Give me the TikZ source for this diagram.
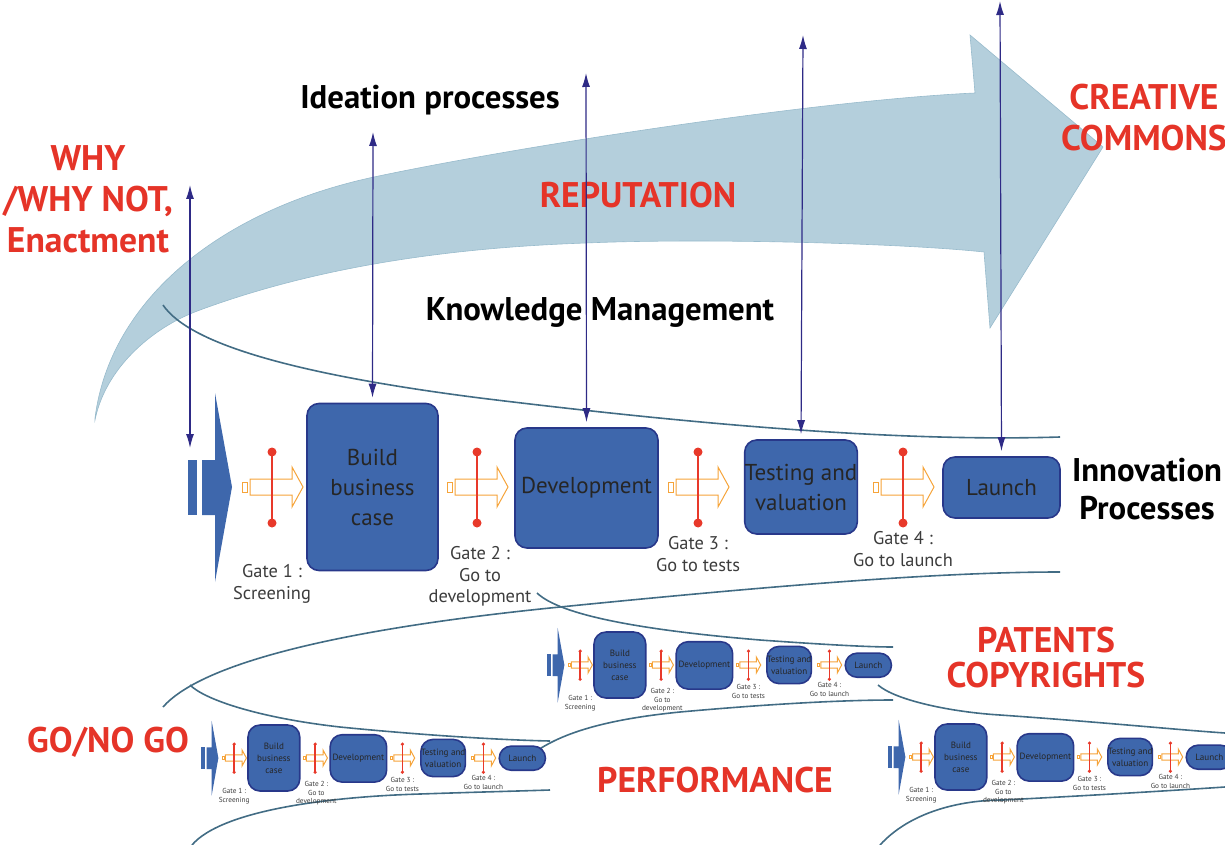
\documentclass[tikz,border=0pt]{standalone}
\usepackage{fontspec}
\setmainfont{PT Sans}
\usetikzlibrary{arrows.meta}

\definecolor{sky}{RGB}{180,207,220}
\definecolor{skyedge}{RGB}{152,187,204}
\definecolor{funnel}{RGB}{66,108,132}
\definecolor{navy}{RGB}{46,42,134}
\definecolor{stagefill}{RGB}{62,103,172}
\definecolor{stageedge}{RGB}{40,56,138}
\definecolor{R}{RGB}{229,52,40}
\definecolor{gatered}{RGB}{232,57,42}
\definecolor{gateorange}{RGB}{246,164,58}
\definecolor{gategray}{RGB}{60,60,60}

\tikzset{
  stage/.style={draw=stageedge, fill=stagefill, line width=0.8pt, rounded corners=6pt,
    align=center, inner sep=0pt, text=black!85, font=\fontsize{11.5}{15}\selectfont},
  gatelabel/.style={anchor=north, align=center, inner sep=0pt, text=gategray,
    font=\fontsize{9.2}{10.8}\selectfont},
  redword/.style={align=center, text=R, font=\bfseries\fontsize{17.8}{20.5}\selectfont},
  blackword/.style={align=center, font=\bfseries\fontsize{16.4}{19}\selectfont},
  funnel/.style={draw=funnel, line width=0.8pt},
  updown/.style={navy, line width=0.6pt, {Latex[length=7pt,width=4pt]}-{Latex[length=7pt,width=4pt]},
    shorten <=2.5pt},
  % one gate: hollow arrow crossed by a red bar
  pics/gate/.style={code={
    \draw[gateorange, fill=white, line width=0.5pt] (-30,-5) rectangle (-25,5);
    \draw[gateorange, fill=white, line width=0.5pt] (-22,-8) -- (20,-8) -- (20,-20)
      -- (31,0) -- (20,20) -- (20,8) -- (-22,8) -- cycle;
    \draw[gatered, line width=0.9pt] (0,-35) -- (0,36);
    \fill[gatered] (0,-35) circle (4.5) (0,36) circle (4.5);
  }},
  % the stage-gate row
  pics/procrow/.style={code={
    \fill[stagefill] (0,-27) rectangle (9,28);
    \fill[stagefill] (14,-27) -- (27,-27) -- (27,-94) -- (44,0) -- (27,95) -- (27,28)
      -- (14,28) -- cycle;
    \coordinate (-in) at (2,-34);
    \pic at (84,0) {gate};
    \node[stage, minimum width=65.5pt, minimum height=83.5pt] (-bbc) at (184.5,0)
      {Build\\business\\case};
    \pic at (289,0) {gate};
    \node[stage, minimum width=71.5pt, minimum height=60pt] (-dev) at (398.5,1)
      {Development};
    \pic at (510,0) {gate};
    \node[stage, minimum width=56pt, minimum height=47pt] (-test) at (613,0)
      {Testing and\\valuation};
    \pic at (715,0) {gate};
    \node[stage, minimum width=58.5pt, minimum height=30.5pt] (-launch) at (813.5,0.5)
      {Launch};
    \node[gatelabel] (-g1) at (84,77) {Gate 1 :\\Screening};
    \node[gatelabel] (-g2) at (292,59) {Gate 2 :\\Go to\\development};
    \node[gatelabel] (-g3) at (510,49) {Gate 3 :\\Go to tests};
    \node[gatelabel] (-g4) at (715,44) {Gate 4 :\\Go to launch};
  }}
}

\begin{document}
\begin{tikzpicture}[x=0.5pt,y=-0.5pt]
  \useasboundingbox (0,0) rectangle (1225,845);

  % big curved arrow
  \filldraw[fill=sky, draw=skyedge, line width=0.3pt]
    (95,418) .. controls (110,300) and (220,210) .. (374,177)
    .. controls (520,146) and (820,100) .. (975,93)
    -- (970,35) -- (1103,147) -- (990,328) -- (984,252)
    .. controls (900,243) and (700,238) .. (586,243)
    .. controls (470,247) and (330,262) .. (200,310)
    .. controls (150,328) and (105,370) .. (95,420) -- cycle;

  % funnels
  \draw[funnel] (163,305) .. controls (190,345) and (300,375) .. (480,398)
    .. controls (700,425) and (900,442) .. (1060,437);
  \draw[funnel] (163,707) .. controls (200,665) and (330,630) .. (560,607)
    .. controls (800,583) and (950,572) .. (1060,572);
  \draw[funnel] (537,593) .. controls (560,615) and (640,630) .. (760,640)
    .. controls (830,645) and (870,647) .. (893,647);
  \draw[funnel] (527,758) .. controls (555,735) and (600,720) .. (680,712)
    .. controls (780,703) and (850,700) .. (893,700);
  \draw[funnel] (190,685) .. controls (205,700) and (260,718) .. (340,727)
    .. controls (420,735) and (500,740) .. (550,741);
  \draw[funnel] (192,845) .. controls (220,812) and (320,797) .. (420,794)
    .. controls (480,792) and (520,791) .. (550,790);
  \draw[funnel] (878,685) .. controls (895,700) and (950,712) .. (1000,715)
    .. controls (1100,722) and (1180,730) .. (1225,733);
  \draw[funnel] (880,845) .. controls (910,812) and (960,800) .. (1003,800)
    .. controls (1100,795) and (1180,790) .. (1225,787);

  % words
  \node[redword] (why) at (88,199) {WHY\\/WHY NOT,\\Enactment};
  \node[blackword] (idea) at (430,100) {Ideation processes};
  \node[redword] (rep) at (638,195) {REPUTATION};
  \node[redword] (cc) at (1144,118) {CREATIVE\\COMMONS};
  \node[blackword] (inno) at (1147,489) {Innovation\\Processes};
  \node[blackword] (km) at (600,312) {Knowledge Management};
  \node[redword, font=\bfseries\fontsize{17.8}{17.5}\selectfont] (pat) at (1046,658)
    {PATENTS\\COPYRIGHTS};
  \node[redword] (go) at (108,742) {GO/NO GO};
  \node[redword] (perf) at (715,780) {PERFORMANCE};

  % stage-gate rows
  \pic (main) at (188,487) {procrow};
  \pic[scale=0.395, transform shape] (rowA) at (547,665) {procrow};
  \pic[scale=0.395, transform shape] (rowB) at (201,758) {procrow};
  \pic[scale=0.395, transform shape] (rowC) at (888,757) {procrow};

  % links up out of the main row
  \coordinate (t0) at (190,185);
  \coordinate (t1) at (373,132);
  \coordinate (t2) at (586,73);
  \coordinate (t3) at (803,35);
  \coordinate (t4) at (1000,1);
  \draw[updown] (main-in) -- (t0);
  \draw[updown] (main-bbc.north) -- (t1);
  \draw[updown] (main-dev.north) -- (t2);
  \draw[updown] (main-test.north) -- (t3);
  \draw[updown] (main-launch.north) -- (t4);
\end{tikzpicture}
\end{document}
